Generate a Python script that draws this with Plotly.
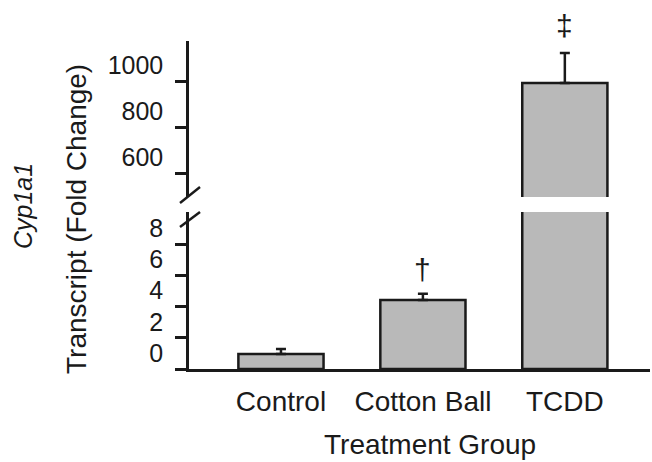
import plotly.graph_objects as go

categories = ["Control", "Cotton Ball", "TCDD"]
means = [0.96, 4.42, 991]
errors = [0.32, 0.39, 131]
marks = ["", "†", "‡"]

low_ticks = [0, 2, 4, 6, 8]
high_ticks = [600, 800, 1000]
low_range = [0, 10.05]
high_range = [496, 1174]

FONT = "Liberation Sans, Arial, sans-serif"
INK = "#1a1a1a"
FILL = "#b9b9b9"

W, H = 652, 462
ML, MR, MT, MB = 189, 2, 41, 93
plot_h = H - MT - MB
low_top = (369 - 212) / plot_h
high_bot = (369 - 197) / plot_h

fig = go.Figure()
for ax in ["y", "y2"]:
    fig.add_trace(go.Bar(
        x=categories, y=means, yaxis=ax, xaxis="x", width=0.6,
        marker=dict(color=FILL, line=dict(color=INK, width=2.5)),
        error_y=dict(type="data", array=errors, arrayminus=[0] * len(errors),
                     symmetric=False, color=INK, thickness=2.5, width=5),
        showlegend=False, hoverinfo="x+y",
    ))

# significance marks
for c, m, e, s in zip(categories, marks, errors, means):
    if not m:
        continue
    ax = "y2" if s > high_range[0] else "y"
    fig.add_annotation(x=c, y=s + e, xref="x", yref=ax, text=m, showarrow=False,
                       yanchor="bottom", yshift=6 if m == "†" else 9,
                       font=dict(family=FONT, size=30, color=INK))

tick_common = dict(showline=True, linecolor=INK, linewidth=2.5, ticks="outside",
                   ticklen=11, tickwidth=2.5, tickcolor=INK, showgrid=False,
                   zeroline=False, ticklabelshift=-16, ticklabelstandoff=7,
                   tickfont=dict(family=FONT, size=25, color=INK))

fig.update_layout(
    width=W, height=H, margin=dict(l=ML, r=MR, t=MT, b=MB),
    paper_bgcolor="white", plot_bgcolor="white", barmode="overlay",
    xaxis=dict(range=[-0.648, 2.6], showline=True, linecolor=INK, linewidth=2.5,
               ticks="", showgrid=False, zeroline=False, anchor="y",
               ticklabelstandoff=6,
               tickfont=dict(family=FONT, size=28, color=INK)),
    yaxis=dict(domain=[0, low_top], range=low_range, tickvals=low_ticks,
               anchor="x", **tick_common),
    yaxis2=dict(domain=[high_bot, 1], range=high_range, tickvals=high_ticks,
                anchor="x", **tick_common),
)

# axis labels
fig.add_annotation(text="Treatment Group", xref="paper", yref="paper",
                   x=(430 - ML) / (W - ML - MR), y=0, yshift=-75,
                   xanchor="center", yanchor="middle", showarrow=False,
                   font=dict(family=FONT, size=28, color=INK))
fig.add_annotation(text="Transcript (Fold Change)", xref="paper", yref="paper",
                   x=0, xshift=76 - ML, y=(369 - 219) / plot_h, textangle=-90,
                   xanchor="center", yanchor="middle", showarrow=False,
                   font=dict(family=FONT, size=28, color=INK))
fig.add_annotation(text="<i>Cyp1a1</i>", xref="paper", yref="paper",
                   x=0, xshift=23 - ML, y=(369 - 206) / plot_h, textangle=-90,
                   xanchor="center", yanchor="middle", showarrow=False,
                   font=dict(family=FONT, size=25, color=INK))

# axis break marks (pixel offsets from the axis ends)
for yref, anchor, y0, y1 in [("y2 domain", 0, -6, 10), ("y domain", 1, -15, 0)]:
    fig.add_shape(type="line", xref="paper", yref=yref,
                  xsizemode="pixel", xanchor=0, x0=-9, x1=11,
                  ysizemode="pixel", yanchor=anchor, y0=y0, y1=y1,
                  line=dict(color=INK, width=2.5))

fig.write_html("out.html", config={"displayModeBar": False},
               post_script="document.body.style.margin='0px';")
